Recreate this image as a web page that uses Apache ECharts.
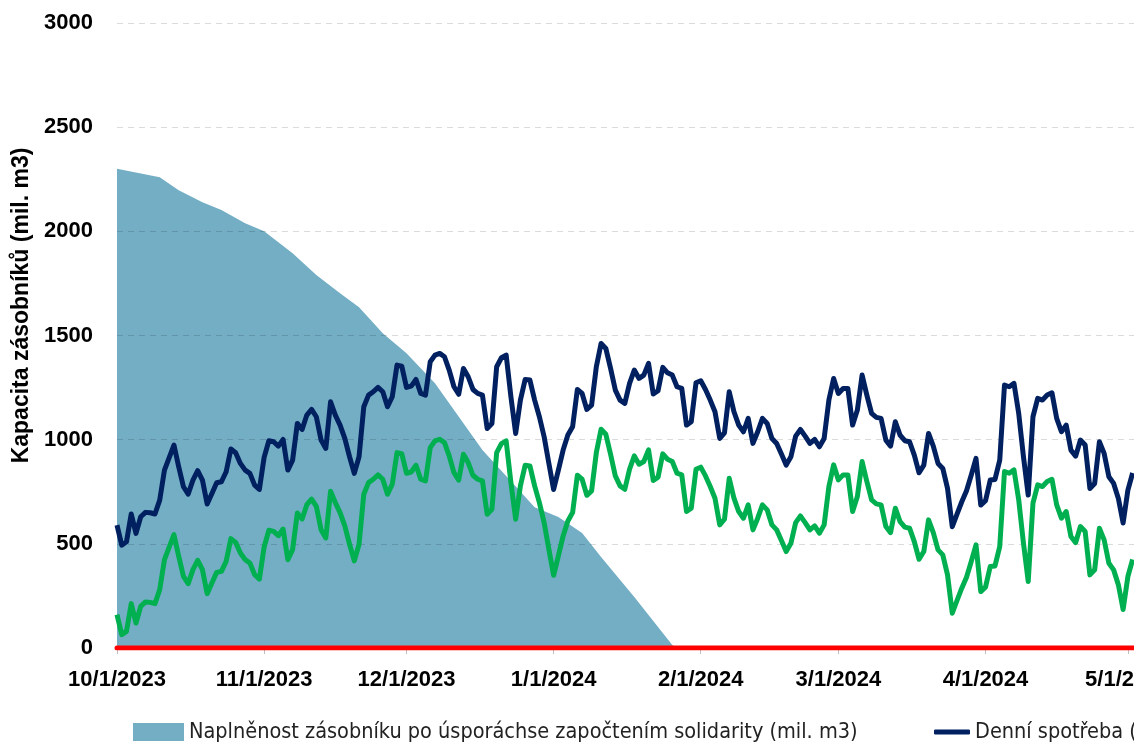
<!DOCTYPE html>
<html>
<head>
<meta charset="utf-8">
<script src="https://cdn.jsdelivr.net/npm/echarts@6/dist/echarts.min.js"></script>
<style>
  html, body { margin: 0; padding: 0; background: #fff; overflow: hidden; }
  #chart { width: 1300px; height: 744px; }
</style>
</head>
<body>
<div id="chart"></div>
<script>
// days counted from 10/1/2023
var tickDays = [0, 31, 61, 92, 123, 152, 183, 213, 244];
var tickLabels = ['10/1/2023', '11/1/2023', '12/1/2023', '1/1/2024', '2/1/2024', '3/1/2024', '4/1/2024', '5/1/2024', '6/1/2024'];

// storage fill (area)
var storageDays = [0, 9, 13, 18, 22, 27, 31, 37, 42, 47, 51, 56, 61, 67, 77, 88, 93, 98, 102, 109, 117, 118];
var storageValues = [2300, 2260, 2197, 2140, 2102, 2039, 2000, 1895, 1790, 1703, 1636, 1511, 1415, 1271, 950, 676, 629, 552, 437, 245, 14, 0];

// daily lines
var lineDays = [0,1,2,3,4,5,6,7,8,9,10,12,13,14,15,16,17,18,19,20,21,22,23,24,25,26,27,28,29,30,
  31,32,33,34,35,36,37,38,39,40,41,42,43,44,45,46,47,48,49,50,51,52,53,54,55,56,57,58,59,60,
  61,62,63,64,65,66,67,68,69,70,71,72,73,74,75,76,77,78,79,80,81,82,83,84,85,86,87,88,89,90,
  91,92,93,94,95,96,97,98,99,100,101,102,103,104,105,106,107,108,109,110,111,112,113,114,115,116,117,118,119,120,
  121,122,123,124,125,126,127,128,129,130,131,132,133,134,135,136,137,138,139,140,141,142,143,144,145,146,147,148,149,150,
  151,152,153,154,155,156,157,158,159,160,161,162,163,164,165,166,167,168,169,170,171,172,173,174,175,176,177,178,179,180,
  181,182,183,184,185,186,187,188,189,190,191,192,193,194,195,196,197,198,199,200,201,202,203,204,205,206,207,208,209,210,
  211,212,213,214];
var consumption = [590,494,510,643,550,630,651,649,643,710,854,974,870,774,739,806,851,806,691,742,793,798,846,955,937,886,854,838,782,761,
  915,995,990,969,1001,854,902,1078,1049,1118,1145,1110,998,958,1182,1118,1070,1006,918,838,918,1158,1214,1230,1251,1230,1158,1206,1358,1353,
  1251,1257,1289,1222,1214,1374,1406,1414,1398,1334,1254,1218,1342,1302,1241,1222,1214,1054,1078,1350,1393,1406,1206,1030,1190,1289,1286,1190,1110,1014,
  886,761,854,950,1022,1062,1241,1222,1145,1166,1350,1462,1438,1342,1238,1190,1174,1270,1334,1294,1310,1366,1219,1235,1347,1321,1310,1254,1246,1070,
  1086,1273,1283,1241,1190,1134,1006,1033,1230,1134,1070,1038,1102,982,1038,1102,1078,1006,982,931,878,918,1017,1049,1017,982,1001,966,1006,1190,
  1294,1222,1246,1246,1070,1142,1310,1214,1126,1107,1102,998,969,1086,1022,995,990,926,841,878,1030,969,886,862,766,582,643,702,755,830,
  910,686,707,806,809,902,1262,1254,1270,1126,918,734,1110,1198,1190,1214,1225,1102,1038,1070,950,921,998,974,766,790,990,934,822,790,
  718,600,758,840];
var consumptionSaved = [160,64,80,213,120,200,221,219,213,280,424,544,440,344,309,376,421,376,261,312,363,368,416,525,507,456,424,408,352,331,
  485,565,560,539,571,424,472,648,619,688,715,680,568,528,752,698,650,586,498,418,498,738,794,810,831,810,738,786,938,933,
  839,845,877,810,802,962,994,1002,986,922,842,806,930,890,829,810,802,642,666,938,981,994,794,618,778,877,874,778,698,602,
  474,349,442,538,610,650,829,810,733,754,938,1050,1026,930,826,778,762,858,922,882,895,951,804,820,932,906,895,839,831,655,
  671,858,868,826,775,719,591,618,815,719,655,623,687,567,623,687,663,591,567,516,463,503,602,634,602,567,586,551,591,775,
  879,807,831,831,655,727,895,799,711,692,687,583,554,671,607,580,575,511,426,463,615,554,471,447,351,167,228,287,340,415,
  495,271,292,391,394,487,847,839,855,711,503,319,695,783,775,799,810,687,623,655,535,506,583,559,351,375,575,519,407,375,
  303,185,343,425];

var limitDays = [0, 244];
var limitValues = [0, 0];

function pairs(xs, ys) {
  var out = [];
  for (var i = 0; i < xs.length; i++) out.push([xs[i], ys[i]]);
  return out;
}

var areaName = 'Naplněnost zásobníku po úsporáchse započtením solidarity (mil. m3)';
var navyName = 'Denní spotřeba (mil. m3)';
var greenName = 'Denní spotřeba po úsporách (mil. m3)';
var redName = 'Hranice vyčerpání zásobníků';

var labelFont = 'Liberation Sans, Arial, sans-serif';
var legendFont = 'Liberation Sans Narrow, DejaVu Sans Condensed, Liberation Sans, sans-serif';

var myChart = echarts.init(document.getElementById('chart'));
var option = {
  animation: false,
  grid: { left: 117, right: 25, top: 23, bottom: 96, containLabel: false, outerBoundsMode: 'none' },
  legend: [
    {
      left: 128, top: 716,
      itemWidth: 51, itemHeight: 18,
      icon: 'rect',
      data: [areaName],
      textStyle: { fontFamily: legendFont, fontSize: 21.5, color: '#222' }
    },
    {
      left: 929, top: 716,
      itemWidth: 36, itemHeight: 5, itemGap: 40,
      icon: 'roundRect',
      data: [navyName, greenName, redName],
      textStyle: { fontFamily: legendFont, fontSize: 21.5, color: '#222' }
    }
  ],
  xAxis: {
    type: 'value',
    min: 0,
    max: 244,
    axisLine: { show: true, lineStyle: { color: '#bfbfbf' } },
    axisTick: { show: true, length: 6, customValues: tickDays, lineStyle: { color: '#bfbfbf' } },
    splitLine: { show: false },
    axisLabel: {
      customValues: tickDays,
      margin: 21,
      fontFamily: labelFont, fontSize: 22, fontWeight: 'bold', color: '#000',
      formatter: function (v) { return tickLabels[tickDays.indexOf(v)]; }
    }
  },
  yAxis: {
    type: 'value',
    min: 0, max: 3000, interval: 500,
    z: 1,
    name: 'Kapacita zásobníků (mil. m3)',
    nameLocation: 'middle',
    nameGap: 81,
    nameTextStyle: { fontFamily: labelFont, fontSize: 23, fontWeight: 'bold', color: '#000', padding: [0, 0, 0, 60] },
    axisLine: { show: false },
    axisTick: { show: false },
    splitLine: { lineStyle: { color: 'rgba(0,0,0,0.14)', type: [6, 5] } },
    axisLabel: {
      margin: 24, fontFamily: labelFont, fontSize: 22, fontWeight: 'bold', color: '#000',
      formatter: function (v) { return String(v); }
    }
  },
  series: [
    {
      name: areaName, type: 'line', z: 0,
      data: pairs(storageDays, storageValues),
      showSymbol: false, symbol: 'none',
      lineStyle: { width: 0 },
      itemStyle: { color: '#73aec5' },
      areaStyle: { color: '#73aec5', opacity: 1 }
    },
    {
      name: navyName, type: 'line', z: 3,
      data: pairs(lineDays, consumption),
      showSymbol: false, symbol: 'none',
      lineStyle: { width: 5, color: '#002060', join: 'round' },
      itemStyle: { color: '#002060' }
    },
    {
      name: greenName, type: 'line', z: 3,
      data: pairs(lineDays, consumptionSaved),
      showSymbol: false, symbol: 'none',
      lineStyle: { width: 5, color: '#00b050', join: 'round' },
      itemStyle: { color: '#00b050' }
    },
    {
      name: redName, type: 'line', z: 4,
      data: pairs(limitDays, limitValues),
      showSymbol: false, symbol: 'none',
      lineStyle: { width: 5, color: '#ff0000', cap: 'round' },
      itemStyle: { color: '#ff0000' }
    }
  ]
};
myChart.setOption(option);
</script>
</body>
</html>
